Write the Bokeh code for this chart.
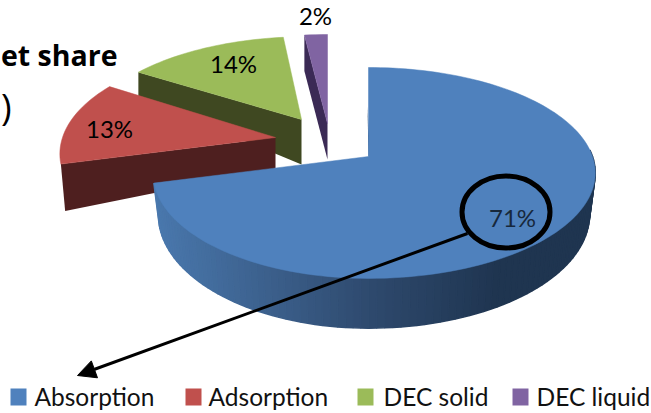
import math
from bokeh.plotting import figure
from bokeh.models import Range1d, Arrow, NormalHead
from bokeh.core.properties import value
from bokeh.embed import file_html
from bokeh.resources import INLINE

categories = ["Absorption", "Adsorption", "DEC solid", "DEC liquid"]
shares = [71, 13, 14, 2]
colors = ["#4f81bd", "#c0504d", "#9bbb59", "#8064a2"]
wall_colors = ["#2f4a6e", "#4e1f1f", "#3f4821", "#3b2a55"]

# layout of the exploded 3D pie (pixels)
apex = [(368, 156), (275, 137), (301, 119), (327, 123)]
wall_h = [40, 31, 45, 36]
wall_sy = [1.08, 1.6, 1.43, 1.0]
wall_sx = [0.975, 0.98, 1.0, 1.0]
radial_sy = [1.0, 1.0, 0.93, 1.0]
shear = [0.0, 0.0, 0.06, 0.0]
R_RIGHT, R_LEFT, S, K = 224.0, 213.0, 102.9, 0.156
label_pos = [(512, 217), (109, 128), (233, 63), (315, 15)]
legend_x = [10, 185, 357, 512]
legend_text_x = [34, 208, 383, 536]

p = figure(width=651, height=413, output_backend="svg", toolbar_location=None,
           x_range=Range1d(0, 651), y_range=Range1d(413, 0),
           min_border=0, outline_line_color=None,
           background_fill_color="white", border_fill_color="white")
p.axis.visible = False
p.grid.visible = False


def rim(turn, i):
    a = 2 * math.pi * turn
    X, Y = math.sin(a), math.cos(a)
    w = 1 + K * Y
    r = R_RIGHT if X >= 0 else R_LEFT
    dy = -S * Y / w * radial_sy[i]
    return r * X / w - shear[i] * dy, dy


total = sum(shares)
starts, t = [], 0.0
for v in shares:
    starts.append(t)
    t += v / total

for i in [3, 2, 1, 0]:
    t0, t1 = starts[i], starts[i] + shares[i] / total
    n = max(3, int(shares[i] * 2))
    turns = [t0 + (t1 - t0) * j / n for j in range(n + 1)]
    ax, ay = apex[i]
    rel = [rim(u, i) for u in turns]
    top_x = [ax + r[0] for r in rel]
    top_y = [ay + r[1] for r in rel]
    by = ay + wall_h[i]
    bot_x = [ax + r[0] * wall_sx[i] for r in rel]
    bot_y = [by + r[1] * wall_sy[i] for r in rel]
    if i == 0:
        c0, c1, c2 = (0x4a, 0x78, 0xad), (0x2f, 0x4a, 0x6e), (0x1f, 0x35, 0x50)
        for j in range(n):
            if rel[j][1] < -5 and rel[j + 1][1] < -5:
                continue
            xm = (top_x[j] + top_x[j + 1]) / 2
            if xm < 370:
                f = max((xm - 155) / 215, 0)
                c = [c0[k] + (c1[k] - c0[k]) * f for k in range(3)]
            else:
                f = min((xm - 370) / 130, 1)
                c = [c1[k] + (c2[k] - c1[k]) * f for k in range(3)]
            col = "#%02x%02x%02x" % tuple(int(q) for q in c)
            p.patch([top_x[j], top_x[j + 1], bot_x[j + 1], bot_x[j]],
                    [top_y[j], top_y[j + 1], bot_y[j + 1], bot_y[j]],
                    fill_color=col, line_color=col, line_width=1.5)
        # dark sliver along the vertical cut
        p.patch([top_x[0] - 1, ax, ax + 1.5], [ay - 50, ay, ay],
                fill_color=wall_colors[i], line_color=None)
    else:
        p.patch([top_x[0], ax, ax, bot_x[0]], [top_y[0], ay, by, bot_y[0]],
                fill_color=wall_colors[i], line_color=None)
    p.patch([ax] + top_x, [ay] + top_y, fill_color=colors[i], line_color=colors[i], line_width=0.5)

# data labels
for i, v in enumerate(shares):
    p.text([label_pos[i][0]], [label_pos[i][1]], text=[f"{v}%"],
           text_font=value("Lato"), text_font_size="24px",
           text_color="#17283c" if i == 0 else "black",
           text_align="center", text_baseline="middle")

# callout circle and arrow
p.ellipse([505.5], [211.5], width=88, height=72, fill_color=None,
          line_color="black", line_width=5)
p.add_layout(Arrow(end=NormalHead(size=18, fill_color="black", line_color="black"),
                   x_start=467, y_start=233, x_end=77, y_end=375,
                   line_color="black", line_width=3))

# heading fragments
p.text([117], [54], text=["et share"], text_font=value("Open Sans"), text_font_style="bold",
       text_font_size="28.5px", text_color="black", text_align="right", text_baseline="middle")
p.text([11], [106], text=[")"], text_font=value("Open Sans"),
       text_font_size="36px", text_color="black", text_align="right", text_baseline="middle")

# legend
for i, name in enumerate(categories):
    p.quad(left=[legend_x[i]], right=[legend_x[i] + 16], top=[388], bottom=[405],
           fill_color=colors[i], line_color=None)
    p.text([legend_text_x[i]], [396], text=[name], text_font=value("Lato"),
           text_font_size="24.5px", text_color="#111111", text_baseline="middle")

open("out.html", "w").write(file_html(p, INLINE))
